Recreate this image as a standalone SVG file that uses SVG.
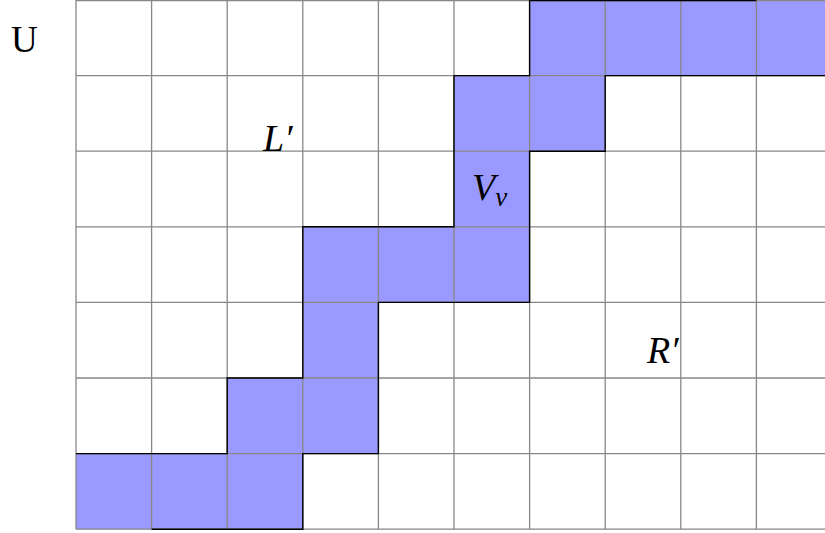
<svg xmlns="http://www.w3.org/2000/svg" width="825" height="533" viewBox="0 0 825 533">
<style>
.grid{stroke:#888888;stroke-width:1.3;fill:none}
.edge{stroke:#000000;stroke-width:1.4;fill:none}
.cell{fill:#9999ff;stroke:none}
.lbl{font-family:"Liberation Serif","DejaVu Serif",serif;font-size:37px;fill:#000}
.it{font-style:italic;font-size:38px}
</style>
<rect width="825" height="533" fill="#ffffff"/>
<g id="region">
<polygon class="cell" points="76,453.6 227.2,453.6 227.2,378 302.8,378 302.8,226.8 454,226.8 454,75.6 529.6,75.6 529.6,0 832,0 832,75.6 605.2,75.6 605.2,151.2 529.6,151.2 529.6,302.4 378.4,302.4 378.4,453.6 302.8,453.6 302.8,529.2 76,529.2"/>
</g>
<g id="grid" class="grid">
<path d="M76,0V529.2M151.6,0V529.2M227.2,0V529.2M302.8,0V529.2M378.4,0V529.2M454,0V529.2M529.6,0V529.2M605.2,0V529.2M680.8,0V529.2M756.4,0V529.2"/>
<path d="M76,0.6H825M76,75.6H825M76,151.2H825M76,226.8H825M76,302.4H825M76,378H825M76,453.6H825M76,529.2H825"/>
</g>
<g id="connectors">
<path class="edge" d="M76,453.6H227.2V378H302.8V226.8H454V75.6H529.6V0.6H756.4"/>
<path class="edge" d="M151.6,529.2H302.8V453.6H378.4V302.4H529.6V151.2H605.2V75.6H832"/>
</g>
<g id="label-U"><text class="lbl" x="11" y="52">U</text></g>
<g id="label-L"><text class="lbl it" x="263" y="151">L′</text></g>
<g id="label-V"><text class="lbl it" x="472" y="200">V<tspan font-size="27" dy="6">ν</tspan></text></g>
<g id="label-R"><text class="lbl it" x="647" y="363">R′</text></g>
</svg>
